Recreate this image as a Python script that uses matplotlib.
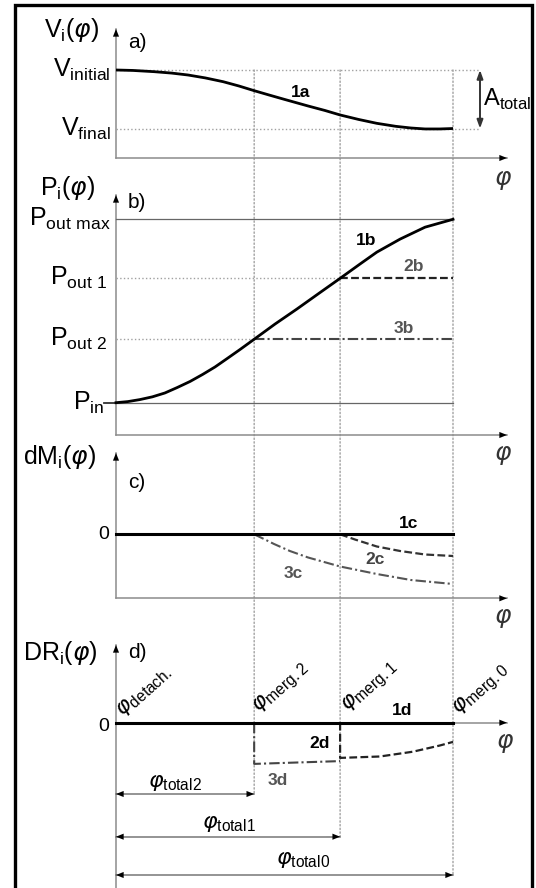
import numpy as np
import matplotlib
matplotlib.use('Agg')
import matplotlib.pyplot as plt
from matplotlib.patches import ConnectionPatch, Rectangle

plt.rcParams['font.family'] = ['Liberation Sans', 'DejaVu Sans']
plt.rcParams['mathtext.fontset'] = 'custom'
plt.rcParams['mathtext.rm'] = 'Liberation Sans'
plt.rcParams['mathtext.it'] = 'DejaVu Sans:italic'
plt.rcParams['mathtext.bf'] = 'Liberation Sans:bold'

# ---------------- data ----------------
phi_marks = [0.0, 0.41, 0.665, 1.0]            # detach, merg.2, merg.1, merg.0
mark_labels = [r'$\varphi_{\mathrm{detach.}}$', r'$\varphi_{\mathrm{merg.2}}$',
               r'$\varphi_{\mathrm{merg.1}}$', r'$\varphi_{\mathrm{merg.0}}$']

# a) V_i(phi)
V_initial = 1.0
V_final = 0.335
phi_1a = [0.0, 0.05, 0.113, 0.165, 0.214, 0.265, 0.318, 0.365, 0.41, 0.455, 0.499,
          0.570, 0.620, 0.665, 0.72, 0.774, 0.83, 0.875, 0.917, 0.961, 1.0]
V_1a = [1.0, 0.995, 0.981, 0.965, 0.943, 0.910, 0.867, 0.818, 0.765, 0.715, 0.667,
        0.591, 0.540, 0.489, 0.438, 0.394, 0.360, 0.341, 0.330, 0.330, 0.335]

# b) P_i(phi)
P_in, P_out2, P_out1, P_outmax = 0.0, 0.346, 0.678, 1.0
phi_1b = [0.0, 0.035, 0.071, 0.108, 0.145, 0.182, 0.220, 0.257, 0.294, 0.33, 0.368, 0.41,
          0.472, 0.537, 0.605, 0.665, 0.724, 0.774, 0.843, 0.917, 1.0]
P_1b = [0.0, 0.006, 0.017, 0.032, 0.053, 0.083, 0.116, 0.154, 0.195, 0.241, 0.290, 0.346,
        0.429, 0.511, 0.600, 0.678, 0.756, 0.821, 0.892, 0.957, 1.0]

# c) dM_i(phi)
phi_2c = [0.665, 0.709, 0.774, 0.843, 0.917, 1.0]
dM_2c = [0.0, -0.104, -0.244, -0.334, -0.404, -0.434]
phi_3c = [0.41, 0.442, 0.469, 0.516, 0.570, 0.665, 0.774, 0.875, 1.0]
dM_3c = [0.0, -0.104, -0.194, -0.334, -0.464, -0.644, -0.794, -0.914, -0.994]

# d) DR_i(phi)
phi_3d = [0.41, 0.41, 0.665]
DR_3d = [0.0, -1.03, -0.96]
phi_2d = [0.665, 0.665, 0.783, 0.881, 0.961, 1.0]
DR_2d = [0.0, -0.88, -0.845, -0.725, -0.57, -0.48]
total_labels = [r'$\varphi_{\mathrm{total2}}$', r'$\varphi_{\mathrm{total1}}$', r'$\varphi_{\mathrm{total0}}$']

# ---------------- layout helpers (pixel geometry of the sketch) ----------------
W, H = 536, 888
X0, X1 = 116, 453          # pixel x of phi=0 and phi=1
def X(px):
    return (px - X0) / (X1 - X0)

fig = plt.figure(figsize=(W / 100, H / 100), dpi=100)

def panel(top, bot, conv):
    ax = fig.add_axes([0, 1 - bot / H, 1, (bot - top) / H])
    ax.set_xlim(X(0), X(W))
    ax.set_ylim(conv(bot), conv(top))
    ax.axis('off')
    return ax

Ya = lambda px: (158 - px) / 88
Yb = lambda px: (402.7 - px) / 183.4
Yc = lambda px: (534.3 - px) / 50
Yd = lambda px: (722.7 - px) / 40

ax_a = panel(0, 180, Ya)
ax_b = panel(180, 440, Yb)
ax_c = panel(440, 620, Yc)
ax_d = panel(620, 888, Yd)

AX_GRAY = '#8c8c8c'
DOT_GRAY = '#a0a0a0'

def head(ax, p_from, p_to):
    ax.annotate('', xy=p_to, xytext=p_from,
                arrowprops=dict(arrowstyle='-|>,head_length=0.55,head_width=0.22',
                                color='black', lw=0.01, shrinkA=0, shrinkB=0),
                annotation_clip=False)

x_end = X(507)
phi_lbl = r'$\varphi$'
BIG = 18
LBL = 12.5
GREY_TXT = '#555555'
PHI_COL = '#333333'

# ---------- panel a ----------
ax = ax_a
ax.plot([0, x_end], [0, 0], color=AX_GRAY, lw=1.1, clip_on=False)
head(ax, (x_end - 0.03, 0), (x_end, 0))
ax.plot([0, 0], [0, Ya(29)], color=AX_GRAY, lw=1.1, clip_on=False)
head(ax, (0, Ya(29) - 0.1), (0, Ya(29)))
xA = X(480)
ax.plot([0, xA], [V_initial, V_initial], ls=':', color=DOT_GRAY, lw=1)
ax.plot([0, xA], [V_final, V_final], ls=':', color=DOT_GRAY, lw=1)
ax.annotate('', xy=(xA, V_final), xytext=(xA, V_initial),
            arrowprops=dict(arrowstyle='<|-|>,head_length=0.5,head_width=0.18',
                            color='#333333', lw=1.4, shrinkA=0, shrinkB=0))
ax.plot(phi_1a, V_1a, color='black', lw=2.0, solid_capstyle='butt', zorder=3)
ax.text(X(72), Ya(30), r'V$_{\mathrm{i}}$($\varphi$)', fontsize=BIG, ha='center', va='center')
ax.text(X(128), Ya(43), 'a)', fontsize=15, ha='left', va='center')
ax.text(X(111), V_initial, r'V$_{\mathrm{initial}}$', fontsize=BIG, ha='right', va='center')
ax.text(X(111), V_final, r'V$_{\mathrm{final}}$', fontsize=BIG, ha='right', va='center')
ax.text(X(301), Ya(92), '1a', fontsize=LBL, fontweight='bold', ha='center', va='center')
ax.text(X(483), Ya(99), r'A$_{\mathrm{total}}$', fontsize=17, ha='left', va='center', clip_on=False)
ax.text(X(503), Ya(180), phi_lbl, fontsize=BIG, ha='center', va='center', color=PHI_COL, clip_on=False)

# ---------- panel b ----------
ax = ax_b
yb_axis = Yb(435)
ax.plot([0, x_end], [yb_axis, yb_axis], color=AX_GRAY, lw=1.1, clip_on=False)
head(ax, (x_end - 0.03, yb_axis), (x_end, yb_axis))
ax.plot([0, 0], [yb_axis, Yb(195)], color=AX_GRAY, lw=1.1, clip_on=False)
head(ax, (0, Yb(195) - 0.05), (0, Yb(195)))
ax.plot([0, 1], [P_outmax, P_outmax], color='#666666', lw=0.9)
ax.plot([0, 1], [P_in, P_in], color='#666666', lw=0.9)
ax.plot([X(104), 0], [P_in, P_in], color='#333333', lw=1.3)
ax.plot([0, phi_marks[2]], [P_out1, P_out1], ls=':', color=DOT_GRAY, lw=1)
ax.plot([0, phi_marks[1]], [P_out2, P_out2], ls=':', color=DOT_GRAY, lw=1)
ax.plot([phi_marks[2], 1], [P_out1, P_out1], ls=(0, (3.5, 1.5)), color='#222222', lw=1.6)
ax.plot([phi_marks[1], 1], [P_out2, P_out2], ls=(0, (5, 1.5, 1, 1.5)), color='#444444', lw=1.5)
ax.plot(phi_1b, P_1b, color='black', lw=2.0, zorder=3)
ax.text(X(68), Yb(188), r'P$_{\mathrm{i}}$($\varphi$)', fontsize=BIG, ha='center', va='center')
ax.text(X(128), Yb(202), 'b)', fontsize=15, ha='left', va='center')
ax.text(X(111), P_outmax, r'P$_{\mathrm{out\ max}}$', fontsize=BIG, ha='right', va='center')
ax.text(X(108), P_out1, r'P$_{\mathrm{out\ 1}}$', fontsize=BIG, ha='right', va='center')
ax.text(X(108), P_out2, r'P$_{\mathrm{out\ 2}}$', fontsize=BIG, ha='right', va='center')
ax.text(X(104), P_in, r'P$_{\mathrm{in}}$', fontsize=BIG, ha='right', va='center')
ax.text(X(366), Yb(240), '1b', fontsize=LBL, fontweight='bold', ha='center', va='center')
ax.text(X(414), Yb(266), '2b', fontsize=LBL, fontweight='bold', ha='center', va='center', color=GREY_TXT)
ax.text(X(404), Yb(328), '3b', fontsize=LBL, fontweight='bold', ha='center', va='center', color=GREY_TXT)
ax.text(X(503), Yb(455), phi_lbl, fontsize=BIG, ha='center', va='center', color=PHI_COL, clip_on=False)

# ---------- panel c ----------
ax = ax_c
yc_axis = Yc(598.3)
ax.plot([0, x_end], [yc_axis, yc_axis], color=AX_GRAY, lw=1.1, clip_on=False)
head(ax, (x_end - 0.03, yc_axis), (x_end, yc_axis))
ax.plot([0, 0], [yc_axis, Yc(453)], color=AX_GRAY, lw=1.1, clip_on=False)
head(ax, (0, Yc(453) - 0.2), (0, Yc(453)))
ax.plot([0, 1], [0, 0], color='black', lw=2.2, zorder=3)
ax.plot(phi_2c, dM_2c, ls=(0, (3.5, 1.5)), color='#333333', lw=1.6)
ax.plot(phi_3c, dM_3c, ls=(0, (5, 1.5, 1, 1.5)), color='#555555', lw=1.5)
ax.text(X(60), Yc(457), r'dM$_{\mathrm{i}}$($\varphi$)', fontsize=BIG, ha='center', va='center')
ax.text(X(128), Yc(483), 'c)', fontsize=15, ha='left', va='center')
ax.text(X(109), 0, '0', fontsize=14, ha='right', va='center')
ax.text(X(409), Yc(524), '1c', fontsize=LBL, fontweight='bold', ha='center', va='center')
ax.text(X(375), Yc(560), '2c', fontsize=LBL, fontweight='bold', ha='center', va='center', color='#444444')
ax.text(X(293), Yc(574), '3c', fontsize=LBL, fontweight='bold', ha='center', va='center', color=GREY_TXT)
ax.text(X(503), Yc(618), phi_lbl, fontsize=BIG, ha='center', va='center', color=PHI_COL, clip_on=False)

# ---------- panel d ----------
ax = ax_d
ax.plot([0, x_end], [0, 0], color=AX_GRAY, lw=1.1, clip_on=False)
head(ax, (x_end - 0.03, 0), (x_end, 0))
ax.plot([0, 0], [Yd(900), Yd(645)], color=AX_GRAY, lw=1.1, clip_on=False)
head(ax, (0, Yd(645) - 0.25), (0, Yd(645)))
ax.plot([0, 1], [0, 0], color='black', lw=2.2, zorder=3)
ax.plot(phi_3d, DR_3d, ls=(0, (5, 1.5, 1, 1.5)), color='#444444', lw=1.5)
ax.plot(phi_2d, DR_2d, ls=(0, (3.5, 1.5)), color='#222222', lw=1.6)
ax.text(X(60), Yd(653), r'DR$_{\mathrm{i}}$($\varphi$)', fontsize=BIG, ha='center', va='center')
ax.text(X(128), Yd(652), 'd)', fontsize=15, ha='left', va='center')
ax.text(X(109), Yd(726), '0', fontsize=14, ha='right', va='center')
ax.text(X(402), Yd(710), '1d', fontsize=LBL, fontweight='bold', ha='center', va='center')
ax.text(X(320), Yd(743), '2d', fontsize=LBL, fontweight='bold', ha='center', va='center')
ax.text(X(278), Yd(780), '3d', fontsize=LBL, fontweight='bold', ha='center', va='center', color=GREY_TXT)
ax.text(X(505), Yd(743), phi_lbl, fontsize=BIG, ha='center', va='center', color=PHI_COL, clip_on=False)

anchors = [(122, 717), (258, 713), (347, 712), (458, 715)]
for (px, py), lab in zip(anchors, mark_labels):
    ax.text(X(px), Yd(py), lab, fontsize=16, rotation=42, rotation_mode='anchor',
            ha='left', va='baseline', clip_on=False)

total_y = [Yd(794), Yd(836.7), Yd(875)]
total_lbl_pos = [(175, 782), (229, 823), (303, 859)]
for phi_t, yt, lab, (lx, ly) in zip(phi_marks[1:], total_y, total_labels, total_lbl_pos):
    ax.plot([0, phi_t], [yt, yt], color='#777777', lw=1.1)
    head(ax, (0.04, yt), (0, yt))
    head(ax, (phi_t - 0.04, yt), (phi_t, yt))
    ax.text(X(lx), Yd(ly), lab, fontsize=16, ha='center', va='center')

# vertical dotted guides from panel a down to the total arrows
for phi_t, yt in zip(phi_marks[1:], total_y):
    con = ConnectionPatch(xyA=(phi_t, V_initial), coordsA=ax_a.transData,
                          xyB=(phi_t, yt), coordsB=ax_d.transData,
                          ls=':', color=DOT_GRAY, lw=1.0, zorder=0)
    fig.add_artist(con)

# outer frame
fig.add_artist(Rectangle((15 / W, -0.02), (532 - 15) / W, (888 - 5) / H + 0.02,
                         transform=fig.transFigure, fill=False, lw=2.4, ec='black'))

fig.savefig('out.png', dpi=100)
